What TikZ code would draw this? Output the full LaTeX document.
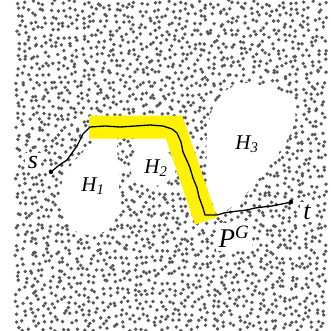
\documentclass[tikz,border=0pt]{standalone}
\usepackage{fontspec}
\setmainfont{Liberation Serif}
\definecolor{dotc}{HTML}{585858}
\definecolor{bandc}{HTML}{FFF200}
\tikzset{
  dotfill/.style={fill=dotc},
  hole/.style={fill=white,draw=none},
  band/.style={draw=bandc,line width=23pt,miter limit=10},
  route/.style={draw=black,line width=1.3pt,line join=round,line cap=round},
  lab/.style={font=\itshape\fontsize{21}{21}\selectfont,inner sep=1pt},
  biglab/.style={font=\itshape\fontsize{26}{26}\selectfont,fill=white,inner sep=3pt},
}
\begin{document}
\begin{tikzpicture}[x=1pt,y=-1pt]
\useasboundingbox (0,0) rectangle (331,330);
\fill[white] (0,0) rectangle (331,330);
% random dot field
\pgfmathsetseed{7}
\foreach \i in {0,...,47}{
  \foreach \j in {0,...,50}{
    \pgfmathsetmacro{\px}{18+6.5*\i+2.9*rand}
    \pgfmathsetmacro{\py}{3+6.5*\j+2.9*rand}
    \fill[dotfill] (\px,\py) circle (1.9pt);
  }
}
% holes
\fill[hole] plot[smooth cycle,tension=0.7] coordinates {(68,170) (62,183) (60,203) (67,223) (80,233) (97,234) (110,227) (117,213) (119,187) (118,160) (114,145) (97,141) (83,152)};
\fill[hole] (92,138) rectangle (117,150);
\fill[hole] (153,167) ellipse (23 and 19);
\fill[hole] (135,138) rectangle (172,152);
\fill[hole] plot[smooth cycle,tension=0.7] coordinates {(230,88) (247,83) (267,87) (283,93) (293,107) (295,120) (287,140) (273,160) (260,177) (243,197) (227,210) (217,213) (210,193) (207,167) (207,137) (212,110) (220,97)};
% yellow band
\coordinate (b1) at (89,127);
\coordinate (b2) at (174,127);
\coordinate (b3) at (206,221);
\draw[band] (b1) -- (b2) -- (b3);
% route
\coordinate (s) at (51,172);
\coordinate (t) at (291,202);
\draw[route] (s) -- (58,166) -- (67,160) -- (72,153) -- (77,146) -- (83,134) -- (90,127) -- (105,126) -- (120,127) -- (135,126) -- (150,125) -- (163,126) -- (172,129) -- (177,133) -- (181,142) -- (183,152) -- (188,163) -- (190,168) -- (193,178) -- (197,188) -- (199,197) -- (203,208) -- (205,215) -- (210,215) -- (217,215) -- (224,213) -- (230,212) -- (238,211) -- (247,210) -- (255,208) -- (263,207) -- (272,206) -- (282,204) -- (t);
\fill (s) circle (2.2pt);
\fill (t) circle (2.2pt);
% labels
\node[biglab] (ls) at (33,162) {s};
\node[biglab] (lt) at (307,212) {t};
\node[biglab,font=\itshape\fontsize{27}{27}\selectfont] (lp) at (234,237) {P\textsuperscript{\itshape G}};
\node[lab] (h1) at (93,186) {H\textsubscript{1}};
\node[lab] (h2) at (156,168) {H\textsubscript{2}};
\node[lab] (h3) at (247,144) {H\textsubscript{3}};
\end{tikzpicture}
\end{document}
